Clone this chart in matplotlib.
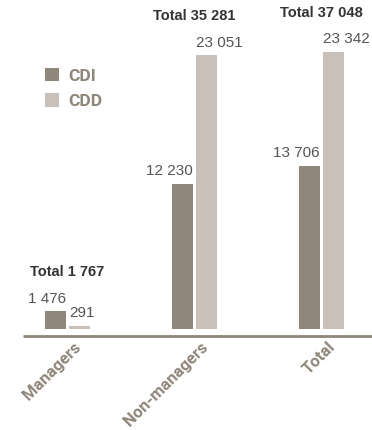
import matplotlib.pyplot as plt
import numpy as np

# Contract types by population
categories = ['Managers', 'Non-managers', 'Total']
cdi = [1476, 12230, 13706]
cdd = [291, 23051, 23342]
totals = [1767, 35281, 37048]


def fmt(v):
    # French style thousands separator
    return f"{v:,}".replace(",", " ")


c_cdi = '#8f877b'
c_cdd = '#c9c1b9'
c_axis = '#8f867a'
cond = ['Roboto', 'DejaVu Sans']

fig = plt.figure(figsize=(3.72, 4.30), dpi=100)
ax = fig.add_axes([0, 0, 1, 1])
ax.set_xlim(-0.5315, 2.3976)
ax.set_ylim(-8511, 27725)
ax.axis('off')

x = np.arange(len(categories))
w = 0.165
off = 0.0945
ax.bar(x - off, cdi, w, color=c_cdi, label='CDI')
ax.bar(x + off, cdd, w, color=c_cdd, label='CDD')

# baseline under the bars
ax.plot([-0.35, 2.3976], [-590, -590], color=c_axis, lw=2, solid_capstyle='butt')

for i in range(len(categories)):
    ax.text(x[i] - off + w / 2, cdi[i] + 500, fmt(cdi[i]), ha='right', va='bottom',
            fontsize=11, color='#555555', family='Liberation Sans')
    ax.text(x[i] + off - w / 2, cdd[i] + 500, fmt(cdd[i]), ha='left', va='bottom',
            fontsize=11, color='#555555', family='Liberation Sans')
    top = max(cdi[i], cdd[i])
    ax.text(x[i], top + 2700, 'Total ' + fmt(totals[i]), ha='center', va='bottom',
            fontsize=10.5, fontweight='bold', color='#333333', family='Liberation Sans')
    ax.text(x[i] + 0.045, -880, categories[i], rotation=45, rotation_mode='anchor',
            ha='right', va='top', fontsize=12, fontweight='bold', color=c_axis, family=cond)

leg = ax.legend(loc='upper left', bbox_to_anchor=(0.078, 0.878), frameon=False,
                handlelength=0.8, handleheight=0.8, handletextpad=0.55, labelspacing=0.55,
                prop={'family': cond, 'weight': 'bold', 'size': 12.5}, labelcolor=c_axis)

fig.savefig('out.png', dpi=100)
